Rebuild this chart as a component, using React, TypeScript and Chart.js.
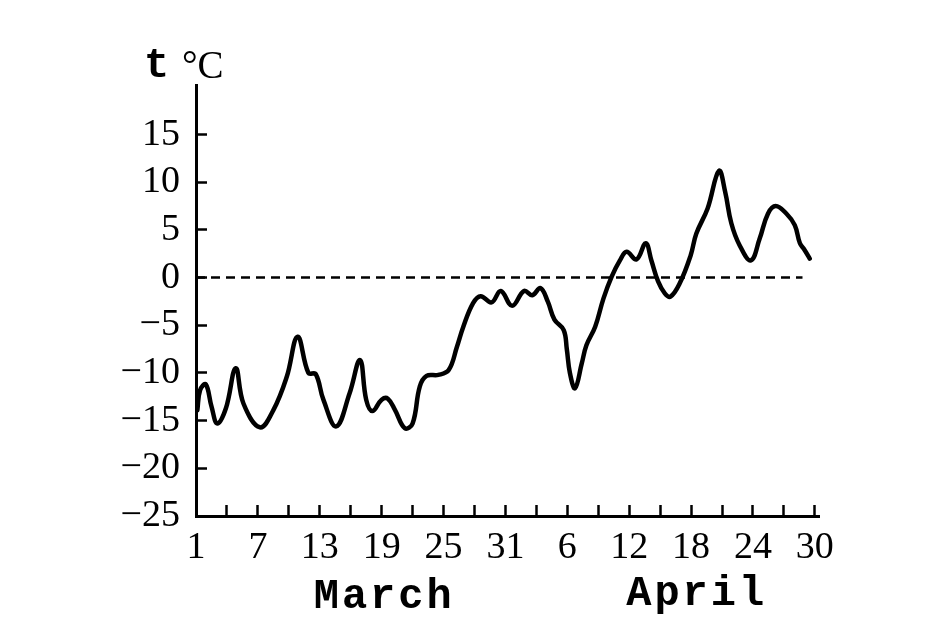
import React, { useEffect, useRef } from 'react';
import { Chart, registerables } from 'chart.js';

Chart.register(...registerables);

// Day index counted from 1 March (32 = 1 April)
const days = [
  1.13, 1.4, 1.95, 2.5, 3.07, 3.9, 4.85, 5.6, 7.2, 8.5, 9.8, 10.85, 11.9, 12.6, 13.35, 14.6,
  15.9, 16.9, 17.5, 18.1, 19.0, 19.6, 20.3, 21.25, 22.0, 22.7, 23.35, 24.5, 25.5, 26.3, 26.9,
  27.85, 28.6, 29.65, 30.55, 31.65, 32.8, 33.6, 34.4, 35.1, 35.75, 36.65, 36.95, 37.25, 37.75,
  38.4, 38.85, 39.7, 40.5, 41.3, 42.1, 42.75, 43.7, 44.6, 45.15, 45.8, 46.45, 47.0, 47.9, 48.95,
  49.5, 50.6, 51.7, 52.3, 52.9, 53.7, 54.8, 55.65, 56.45, 57.2, 58.25, 59.05, 59.55, 60.0, 60.5,
];
const temps = [
  -13.9, -11.8, -11.2, -13.5, -15.3, -13.7, -9.5, -13.2, -15.7, -13.9, -10.4, -6.2, -10.0, -10.1, -12.8, -15.6,
  -12.1, -8.65, -12.8, -14.0, -12.8, -12.7, -13.9, -15.8, -15.3, -11.4, -10.3, -10.2, -9.7, -7.25, -5.2,
  -2.7, -1.95, -2.6, -1.4, -2.95, -1.4, -1.85, -1.1, -2.5, -4.4, -5.5, -7.5, -10.0, -11.6,
  -9.0, -7.1, -5.15, -2.2, 0.1, 1.8, 2.7, 1.9, 3.6, 1.8, -0.4, -1.65, -2.0, -0.6, 2.3,
  4.6, 7.25, 11.2, 9.0, 5.7, 3.4, 1.8, 4.1, 6.7, 7.5, 6.7, 5.5, 3.6, 2.9, 2.0,
];

const zeroLineDays = [1, 59.8];
const zeroLineTemps = [0, 0];

const yTickValues = [-25, -20, -15, -10, -5, 0, 5, 10, 15];
const xTickDays = [1, 4, 7, 10, 13, 16, 19, 22, 25, 28, 31, 34, 37, 40, 43, 46, 49, 52, 55, 58, 61];
const labeledDays = [1, 7, 13, 19, 25, 31, 37, 43, 49, 55, 61];
const dayLabels = ['1', '7', '13', '19', '25', '31', '6', '12', '18', '24', '30'];
const monthNames = ['March', 'April'];
const unitSymbol = 't';
const unitName = '°C';

const SERIF = '"Liberation Serif", "Times New Roman", serif';
const MONO = '"Liberation Mono", "Courier New", monospace';

const textPlugin = {
  id: 'extraText',
  afterDraw(chart: any) {
    const ctx = chart.ctx;
    const xs = chart.scales.x;
    ctx.save();
    ctx.fillStyle = '#000';
    ctx.textBaseline = 'alphabetic';
    // month names
    ctx.font = `bold 42px ${MONO}`;
    try { (ctx as any).letterSpacing = '3px'; } catch (e) {}
    ctx.textAlign = 'center';
    ctx.fillText(monthNames[0], xs.getPixelForValue(19.1) + 1.5, 608);
    ctx.fillText(monthNames[1], xs.getPixelForValue(49.4) + 1.5, 605);
    try { (ctx as any).letterSpacing = '0px'; } catch (e) {}
    // unit label
    ctx.textAlign = 'left';
    ctx.font = `bold 42px ${MONO}`;
    ctx.fillText(unitSymbol, 144, 77);
    ctx.font = `39px ${SERIF}`;
    ctx.fillText(unitName, 182, 78);
    ctx.restore();
  },
};

export default function App() {
  const ref = useRef<HTMLCanvasElement | null>(null);

  useEffect(() => {
    if (!ref.current) return;
    const chart = new Chart(ref.current, {
      type: 'line',
      data: {
        datasets: [
          {
            data: zeroLineDays.map((d, i) => ({ x: d, y: zeroLineTemps[i] })),
            borderColor: '#000',
            borderWidth: 2.5,
            borderDash: [9, 6],
            pointRadius: 0,
            tension: 0,
          },
          {
            data: days.map((d, i) => ({ x: d, y: temps[i] })),
            borderColor: '#000',
            borderWidth: 4.5,
            pointRadius: 0,
            tension: 0.4,
            borderCapStyle: 'round',
            borderJoinStyle: 'round',
          },
        ],
      },
      options: {
        responsive: false,
        maintainAspectRatio: false,
        animation: false,
        layout: { padding: { top: 85, right: 125, left: 0, bottom: 0 } },
        plugins: { legend: { display: false }, tooltip: { enabled: false } },
        elements: { point: { radius: 0 } },
        scales: {
          x: {
            type: 'linear',
            min: 1,
            max: 61.4,
            afterBuildTicks: (scale: any) => {
              scale.ticks = xTickDays.map((v) => ({ value: v }));
            },
            afterFit: (scale: any) => {
              scale.height = 124;
            },
            border: { display: true, color: '#000', width: 3 },
            grid: {
              display: true,
              drawOnChartArea: false,
              drawTicks: true,
              tickLength: -11,
              tickWidth: 2.5,
              tickColor: '#000',
              color: '#000',
            },
            ticks: {
              autoSkip: false,
              maxRotation: 0,
              padding: 20,
              color: '#000',
              font: { family: SERIF, size: 38 },
              callback: (v: any) => {
                const i = labeledDays.indexOf(Number(v));
                return i >= 0 ? dayLabels[i] : '';
              },
            },
          },
          y: {
            type: 'linear',
            min: -25,
            max: 20.2,
            afterBuildTicks: (scale: any) => {
              scale.ticks = yTickValues.map((v) => ({ value: v }));
            },
            afterFit: (scale: any) => {
              scale.width = 196;
            },
            border: { display: true, color: '#000', width: 3 },
            grid: {
              display: true,
              drawOnChartArea: false,
              drawTicks: true,
              tickLength: -11,
              tickWidth: 2.5,
              tickColor: '#000',
              color: '#000',
            },
            ticks: {
              autoSkip: false,
              padding: 27,
              color: '#000',
              font: { family: SERIF, size: 38 },
              callback: (v: any) => {
                const n = Number(v);
                return n < 0 ? '\u2212' + Math.abs(n) : String(n);
              },
            },
          },
        },
      },
      plugins: [textPlugin],
    } as any);
    return () => chart.destroy();
  }, []);

  return (
    <div style={{ position: 'absolute', left: 0, top: 0, width: 944, height: 640, background: '#fff' }}>
      <canvas ref={ref} width={944} height={640} style={{ display: 'block' }} />
    </div>
  );
}
